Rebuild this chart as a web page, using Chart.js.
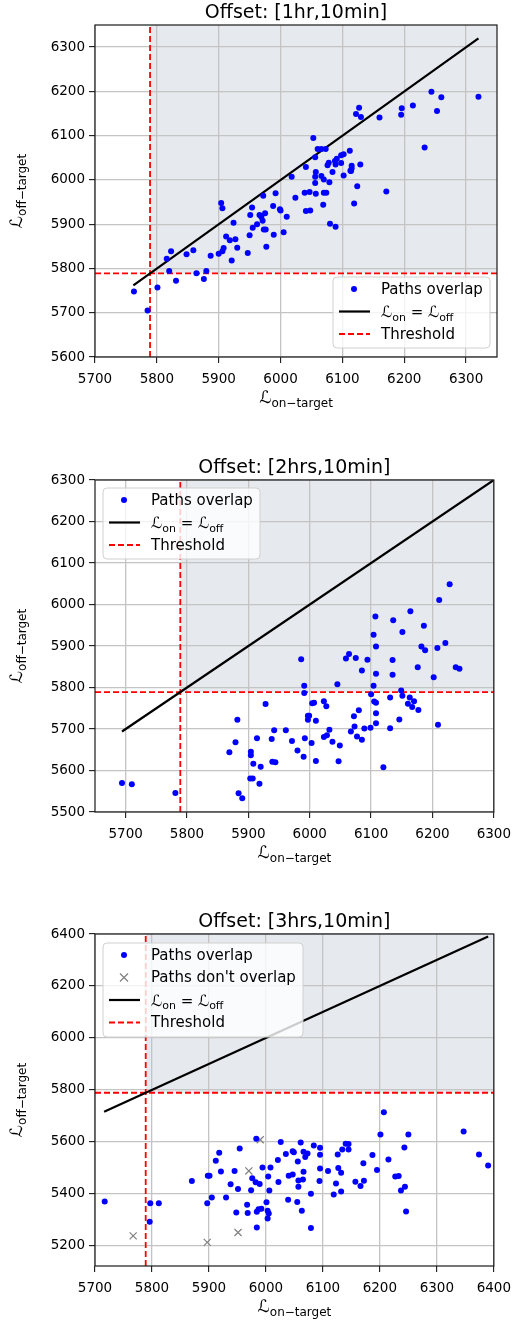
<!DOCTYPE html>
<html>
<head>
<meta charset="utf-8">
<script src="https://cdn.jsdelivr.net/npm/chart.js@4.4.0/dist/chart.umd.min.js"></script>
<style>
  html, body { margin: 0; padding: 0; background: #fff; width: 519px; height: 1328px; overflow: hidden; }
  .panel { position: absolute; left: 0; width: 519px; height: 455px; }
</style>
</head>
<body>
<div class="panel" style="top:0px"><canvas id="c1" width="519" height="455"></canvas></div>
<div class="panel" style="top:455px"><canvas id="c2" width="519" height="455"></canvas></div>
<div class="panel" style="top:909px"><canvas id="c3" width="519" height="455"></canvas></div>
<script>
// ---- data ----
const threshold = 5789;

// Offset [1hr,10min]
const p1On = [5763, 5801, 5831, 5820, 5816, 5823, 5848, 5859, 5864, 5876, 5880, 5887, 5900, 5904, 5906, 5908, 5906, 5912, 5918, 5921,
  5924, 5927, 5930, 5947, 5950, 5951, 5954, 5955, 5962, 5966, 5969, 5971, 5972, 5973, 5976, 5975, 5977, 5988, 5989, 5992,
  5999, 6000, 6005, 6010, 6018, 6024, 6039, 6041, 6047, 6048, 6057, 6069, 6070, 6074, 6080, 6089, 6102, 6124, 6119, 6171,
  6057, 6056, 6056, 6066, 6070, 6079, 6084, 6114, 6041, 6056, 6060, 6066, 6073, 6053, 6076, 6078, 6088, 6089, 6091, 6098,
  6102, 6098, 6112, 6115, 6115, 6113, 6129, 6122, 6127, 6130, 6160, 6195, 6196, 6214, 6244, 6260, 6253, 6233, 6320, 5785];
const p1Off = [5748, 5757, 5772, 5794, 5822, 5839, 5832, 5841, 5789, 5776, 5794, 5829, 5833, 5948, 5936, 5846, 5839, 5872, 5864, 5818,
  5903, 5866, 5847, 5835, 5875, 5921, 5938, 5892, 5900, 5921, 5916, 5908, 5964, 5888, 5888, 5925, 5849, 5941, 5876, 5970,
  5934, 5931, 5882, 5917, 6007, 5960, 5971, 5930, 5973, 5931, 5969, 5944, 5971, 5971, 5901, 5894, 6010, 5986, 5947, 5974,
  6018, 6007, 5993, 6009, 6001, 5995, 6018, 6020, 6029, 6051, 6070, 6070, 6070, 6095, 6033, 6039, 6043, 6035, 6048, 6056,
  6058, 6038, 6066, 6032, 6026, 6021, 6035, 6149, 6163, 6142, 6141, 6147, 6162, 6168, 6199, 6187, 6156, 6073, 6188, 5705];
const p1Span = [5762, 6320];
const p1XTicks = [5700, 5800, 5900, 6000, 6100, 6200, 6300];
const p1YTicks = [5600, 5700, 5800, 5900, 6000, 6100, 6200, 6300];

// Offset [2hrs,10min]
const p2On = [5694, 5710, 5781, 5882, 5879, 5869, 5884, 5890, 5904, 5904, 5908, 5914, 5920, 5903, 5907, 5918, 5928, 5938, 5942, 5939,
  5944, 5961, 5971, 5980, 5990, 5992, 5986, 5991, 5991, 6003, 5997, 5999, 5997, 6010, 6004, 6007, 6010, 6023, 6027, 6032,
  6023, 6028, 6037, 6049, 6047, 6059, 6064, 6075, 6094, 6085, 6045, 6080, 6072, 6073, 6067, 6077, 6085, 6089, 6099, 6104,
  6108, 6151, 6108, 6104, 6100, 6105, 6108, 6108, 6108, 6120, 6135, 6135, 6131, 6146, 6131, 6149, 6151, 6160, 6163, 6167,
  6170, 6177, 6176, 6182, 6188, 6208, 6221, 6202, 6209, 6238, 6244, 6228, 6211, 6164, 6107, 6136, 6186];
const p2Off = [5570, 5567, 5546, 5722, 5668, 5644, 5545, 5533, 5645, 5637, 5616, 5678, 5609, 5581, 5581, 5568, 5760, 5676, 5697, 5621,
  5620, 5697, 5671, 5648, 5633, 5678, 5868, 5804, 5787, 5666, 5732, 5732, 5722, 5720, 5762, 5763, 5623, 5767, 5755, 5698,
  5681, 5685, 5669, 5660, 5622, 5870, 5881, 5871, 5867, 5841, 5808, 5745, 5731, 5706, 5694, 5682, 5674, 5701, 5703, 5927,
  5899, 5934, 5833, 5804, 5784, 5766, 5763, 5738, 5714, 5608, 5866, 5831, 5776, 5723, 5702, 5793, 5780, 5761, 5776, 5753,
  5767, 5746, 5849, 5899, 5890, 5895, 5907, 5825, 5710, 5849, 5845, 6049, 6011, 5984, 5971, 5962, 5949];
const p2Span = [5694, 6300];
const p2XTicks = [5700, 5800, 5900, 6000, 6100, 6200, 6300];
const p2YTicks = [5500, 5600, 5700, 5800, 5900, 6000, 6100, 6200, 6300];

// Offset [3hrs,10min]
const p3On = [5717, 5797, 5812, 5796, 5870, 5898, 5901, 5905, 5897, 5912, 5918, 5921, 5930, 5938, 5945, 5948, 5951, 5954, 5967, 5968,
  5974, 5976, 5982, 5989, 5983, 5984, 5984, 5987, 5992, 5994, 6001, 6003, 6005, 6003, 6004, 6006, 6008, 6021, 6022, 6026,
  6035, 6039, 6040, 6047, 6047, 6049, 6055, 6056, 6057, 6057, 6061, 6063, 6065, 6066, 6066, 6073, 6069, 6079, 6079, 6084,
  6095, 6095, 6095, 6094, 6109, 6123, 6119, 6132, 6126, 6127, 6132, 6134, 6140, 6145, 6145, 6157, 6166, 6172, 6171, 6187,
  6195, 6201, 6207, 6215, 6227, 6233, 6237, 6244, 6246, 6243, 6250, 6347, 6374, 6390];
const p3Off = [5370, 5364, 5364, 5292, 5449, 5469, 5469, 5386, 5364, 5527, 5558, 5486, 5386, 5437, 5488, 5328, 5418, 5574, 5358, 5326,
  5414, 5460, 5444, 5438, 5612, 5270, 5331, 5340, 5342, 5501, 5367, 5335, 5324, 5305, 5467, 5413, 5501, 5530, 5445, 5599,
  5553, 5377, 5469, 5474, 5564, 5560, 5368, 5524, 5451, 5427, 5597, 5335, 5455, 5485, 5562, 5555, 5542, 5268, 5400, 5586,
  5577, 5550, 5497, 5449, 5488, 5440, 5397, 5409, 5551, 5499, 5481, 5570, 5593, 5592, 5570, 5446, 5430, 5450, 5518, 5549,
  5492, 5628, 5714, 5532, 5467, 5468, 5413, 5427, 5332, 5578, 5628, 5640, 5551, 5509];
const p3NoOn = [5767, 5897, 5951, 5970, 5990];
const p3NoOff = [5238, 5213, 5251, 5488, 5608];
const p3Span = [5716, 6390];
const p3XTicks = [5700, 5800, 5900, 6000, 6100, 6200, 6300, 6400];
const p3YTicks = [5200, 5400, 5600, 5800, 6000, 6200, 6400];

// ---- helpers ----
Chart.defaults.font.family = "'DejaVu Sans', sans-serif";
Chart.defaults.color = '#000';

const FONT = "'DejaVu Sans', sans-serif";
const toPts = (xs, ys) => xs.map((x, i) => ({ x: x, y: ys[i] }));

// parts: [text, size, dy] drawn one after the other (for subscripts)
function drawMath(ctx, parts, x, y, align) {
  let w = 0;
  parts.forEach(p => { ctx.font = p[1] + 'px ' + FONT; w += ctx.measureText(p[0]).width; });
  let cx = align === 'center' ? x - w / 2 : x;
  ctx.textAlign = 'left';
  ctx.textBaseline = 'alphabetic';
  parts.forEach(p => {
    ctx.font = p[1] + 'px ' + FONT;
    ctx.fillText(p[0], cx, y + p[2]);
    cx += ctx.measureText(p[0]).width;
  });
}

const decor = {
  id: 'decor',
  beforeDraw(chart) {
    // shaded quadrant above both thresholds
    const { ctx, chartArea: a, scales: { x, y } } = chart;
    const x0 = x.getPixelForValue(threshold), y0 = y.getPixelForValue(threshold);
    ctx.save();
    ctx.fillStyle = '#e6e9ed';
    ctx.fillRect(x0, a.top, a.right - x0, y0 - a.top);
    ctx.restore();
  },
  afterDraw(chart, args, o) {
    const { ctx, chartArea: a } = chart;
    ctx.save();
    // frame
    ctx.strokeStyle = '#1a1a1a';
    ctx.lineWidth = 1.2;
    ctx.strokeRect(a.left, a.top, a.right - a.left, a.bottom - a.top);
    // title
    ctx.fillStyle = '#000';
    ctx.font = '19px ' + FONT;
    ctx.textAlign = 'center';
    ctx.textBaseline = 'alphabetic';
    ctx.fillText(o.title, (a.left + a.right) / 2, a.top - 7);
    // axis labels
    drawMath(ctx, [['\u2112', 17, 0], ['on\u2212target', 12, 4]], (a.left + a.right) / 2, 403, 'center');
    ctx.save();
    ctx.translate(22, (a.top + a.bottom) / 2);
    ctx.rotate(-Math.PI / 2);
    drawMath(ctx, [['\u2112', 17, 0], ['off\u2212target', 12, 4]], 0, 0, 'center');
    ctx.restore();
    // legend
    const lg = o.legend;
    ctx.beginPath();
    ctx.roundRect(lg.x, lg.y, lg.w, lg.h, 4);
    ctx.fillStyle = 'rgba(255,255,255,0.8)';
    ctx.fill();
    ctx.strokeStyle = '#d0d0d0';
    ctx.lineWidth = 1;
    ctx.stroke();
    lg.rows.forEach((r, i) => {
      const ry = lg.y + 12 + i * 22.5;
      const hx0 = lg.x + 6, hx1 = lg.x + 37, hc = lg.x + 21;
      ctx.save();
      if (r.kind === 'dot') {
        ctx.fillStyle = '#0000ff';
        ctx.beginPath(); ctx.arc(hc, ry, 3, 0, Math.PI * 2); ctx.fill();
      } else if (r.kind === 'cross') {
        ctx.strokeStyle = '#808080'; ctx.lineWidth = 1.2;
        ctx.beginPath();
        ctx.moveTo(hc - 4, ry - 4); ctx.lineTo(hc + 4, ry + 4);
        ctx.moveTo(hc - 4, ry + 4); ctx.lineTo(hc + 4, ry - 4);
        ctx.stroke();
      } else {
        ctx.strokeStyle = r.kind === 'line' ? '#000' : '#ff0000';
        ctx.lineWidth = r.kind === 'line' ? 2.2 : 1.8;
        if (r.kind === 'dash') ctx.setLineDash([6, 3]);
        ctx.beginPath(); ctx.moveTo(hx0, ry); ctx.lineTo(hx1, ry); ctx.stroke();
      }
      ctx.restore();
      ctx.fillStyle = '#000';
      if (r.math) {
        drawMath(ctx, [['\u2112', 15.5, 0], ['on', 11, 3.5], [' = ', 15, 0], ['\u2112', 15.5, 0], ['off', 11, 3.5]], lg.x + 48, ry + 5.5, 'left');
      } else {
        ctx.font = '15px ' + FONT;
        ctx.textAlign = 'left';
        ctx.textBaseline = 'middle';
        ctx.fillText(r.text, lg.x + 48, ry + 1);
      }
    });
    ctx.restore();
  }
};

function makePanel(id, p) {
  const datasets = [
    { data: toPts(p.on, p.off), backgroundColor: '#0000ff', borderWidth: 0, pointRadius: 3, pointHoverRadius: 3 }
  ];
  if (p.noOn) {
    datasets.push({ data: toPts(p.noOn, p.noOff), pointStyle: 'crossRot', pointRadius: 5, borderColor: '#808080', borderWidth: 1.2 });
  }
  datasets.push(
    { data: toPts(p.span, p.span), showLine: true, borderColor: '#000', borderWidth: 2.2, pointRadius: 0 },
    { data: [{ x: threshold, y: p.yMin }, { x: threshold, y: p.yMax }], showLine: true, borderColor: '#ff0000', borderWidth: 1.8, borderDash: [6, 3], pointRadius: 0 },
    { data: [{ x: p.xMin, y: threshold }, { x: p.xMax, y: threshold }], showLine: true, borderColor: '#ff0000', borderWidth: 1.8, borderDash: [6, 3], pointRadius: 0 }
  );

  const axis = (min, max, ticks, isY) => ({
    type: 'linear', min: min, max: max,
    afterBuildTicks: s => { s.ticks = ticks.map(v => ({ value: v })); },
    afterFit: s => { if (isY) s.width = 95; else s.height = 70; },
    grid: { color: '#c4c4c4', lineWidth: 1.3, drawTicks: true, tickLength: 6, tickColor: '#000', tickWidth: 1 },
    border: { display: false },
    ticks: { callback: v => String(v), font: { size: 13.5 }, color: '#000', padding: isY ? 4 : 8, maxRotation: 0 }
  });

  new Chart(document.getElementById(id), {
    type: 'scatter',
    data: { datasets: datasets },
    options: {
      responsive: false,
      animation: false,
      layout: { padding: { top: 25, right: 22, left: 0, bottom: 455 - 357 - 70 } },
      scales: {
        x: axis(p.xMin, p.xMax, p.xTicks, false),
        y: axis(p.yMin, p.yMax, p.yTicks, true)
      },
      plugins: {
        legend: { display: false },
        tooltip: { enabled: false },
        decor: { title: p.title, legend: p.legend }
      }
    },
    plugins: [decor]
  });
}

const rows3 = [
  { kind: 'dot', text: 'Paths overlap' },
  { kind: 'line', math: true },
  { kind: 'dash', text: 'Threshold' }
];

makePanel('c1', {
  title: 'Offset: [1hr,10min]', on: p1On, off: p1Off, span: p1Span,
  xMin: 5700, xMax: 6350, yMin: 5600, yMax: 6350, xTicks: p1XTicks, yTicks: p1YTicks,
  legend: { x: 333, y: 277, w: 157, h: 71, rows: rows3 }
});
makePanel('c2', {
  title: 'Offset: [2hrs,10min]', on: p2On, off: p2Off, span: p2Span,
  xMin: 5650, xMax: 6300, yMin: 5500, yMax: 6300, xTicks: p2XTicks, yTicks: p2YTicks,
  legend: { x: 103, y: 33, w: 157, h: 71, rows: rows3 }
});
makePanel('c3', {
  title: 'Offset: [3hrs,10min]', on: p3On, off: p3Off, noOn: p3NoOn, noOff: p3NoOff, span: p3Span,
  xMin: 5700, xMax: 6400, yMin: 5122, yMax: 6400, xTicks: p3XTicks, yTicks: p3YTicks,
  legend: { x: 103, y: 34, w: 200, h: 94, rows: [
    { kind: 'dot', text: 'Paths overlap' },
    { kind: 'cross', text: "Paths don't overlap" },
    { kind: 'line', math: true },
    { kind: 'dash', text: 'Threshold' }
  ] }
});
</script>
</body>
</html>
